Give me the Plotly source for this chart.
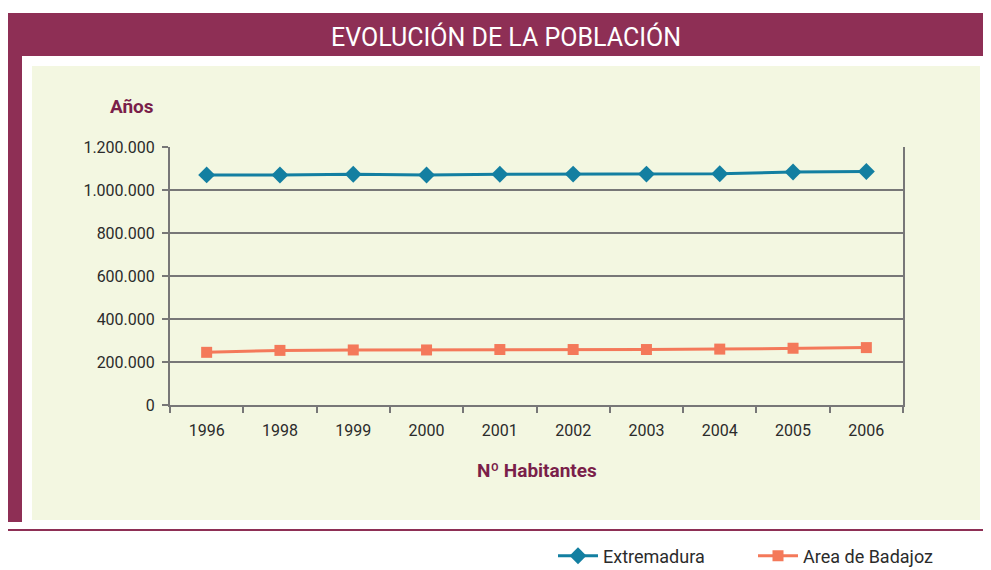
import plotly.graph_objects as go

# the page puts the figure 8px from the top-left corner, so the figure is drawn
# 8px smaller and all reference pixel positions are shifted by -8
OFF = 8
W, H = 983, 562

anios = ["1996", "1998", "1999", "2000", "2001", "2002", "2003", "2004", "2005", "2006"]
extremadura = [1070244, 1069419, 1073574, 1069420, 1073381, 1073904, 1074000, 1075286, 1083879, 1086373]
badajoz = [245000, 254000, 256000, 256000, 258000, 258000, 258000, 260000, 264000, 267000]
y_ticks = [0, 200000, 400000, 600000, 800000, 1000000, 1200000]

MAROON = "#8E2F55"
PANEL = "#F3F7E1"
BLUE = "#137FA1"
ORANGE = "#F4795A"
GRID = "#777777"
TEXT = "#2b2b2b"
FONT = "Roboto, sans-serif"


def px(x):
    return (x - OFF) / W


def py(y):
    return 1 - (y - OFF) / H


fig = go.Figure()
fig.add_trace(go.Scatter(
    x=anios, y=extremadura, name="Extremadura", mode="lines+markers",
    line=dict(color=BLUE, width=3),
    marker=dict(symbol="diamond", size=13, color=BLUE),
))
fig.add_trace(go.Scatter(
    x=anios, y=badajoz, name="Area de Badajoz", mode="lines+markers",
    line=dict(color=ORANGE, width=3),
    marker=dict(symbol="square", size=11, color=ORANGE),
))

# marco de la ficha
shapes = [
    dict(type="rect", x0=px(8), x1=px(991), y0=py(56), y1=py(13), fillcolor=MAROON, line_width=0),
    dict(type="rect", x0=px(8), x1=px(22), y0=py(522), y1=py(56), fillcolor=MAROON, line_width=0),
    dict(type="rect", x0=px(32), x1=px(980), y0=py(520), y1=py(66), fillcolor=PANEL, line_width=0),
    dict(type="line", x0=px(989.5), x1=px(989.5), y0=py(522), y1=py(56), line=dict(color="#c98fa8", width=1)),
    dict(type="line", x0=px(8), x1=px(991), y0=py(530), y1=py(530), line=dict(color=MAROON, width=2)),
]
for s in shapes:
    s.update(xref="paper", yref="paper", layer="below")

annotations = [
    dict(text="EVOLUCIÓN DE LA POBLACIÓN", x=px(506), y=py(37), font=dict(size=25, color="white")),
    dict(text="<b>Años</b>", x=px(132), y=py(106), font=dict(size=19, color="#7a1f4a")),
    dict(text="<b>Nº Habitantes</b>", x=px(537), y=py(470), font=dict(size=19, color="#7a1f4a")),
]
for a in annotations:
    a.update(xref="paper", yref="paper", showarrow=False, xanchor="center", yanchor="middle",
             font_family=FONT)

fig.update_layout(
    width=W, height=H,
    margin=dict(l=0, r=0, t=0, b=0, autoexpand=False),
    paper_bgcolor="white",
    plot_bgcolor="rgba(0,0,0,0)",
    separators=",.",
    font=dict(family=FONT, size=16, color=TEXT),
    shapes=shapes,
    annotations=annotations,
    showlegend=True,
    legend=dict(orientation="h", x=px(553), y=py(556), xanchor="left", yanchor="middle",
                font=dict(size=18, color=TEXT), bgcolor="rgba(0,0,0,0)", itemwidth=40,
                entrywidth=145, entrywidthmode="pixels"),
    xaxis=dict(
        domain=[px(170), px(903)], type="category", range=[-0.5, 9.5],
        showline=True, linecolor=GRID, linewidth=2, showgrid=False,
        ticks="outside", tickson="boundaries", ticklen=6, tickcolor=GRID, tickwidth=2,
        tickfont=dict(size=16), ticklabelstandoff=10, fixedrange=True,
    ),
    yaxis=dict(
        domain=[py(405), py(147)], range=[0, 1200000], tickvals=y_ticks, tickformat=",d",
        showline=True, mirror=True, linecolor=GRID, linewidth=2,
        showgrid=True, gridcolor=GRID, gridwidth=2, zeroline=False,
        ticks="outside", ticklen=6, tickcolor=GRID, tickwidth=2,
        tickfont=dict(size=16), ticklabelstandoff=4, fixedrange=True,
    ),
)

fig.write_html("out.html")
